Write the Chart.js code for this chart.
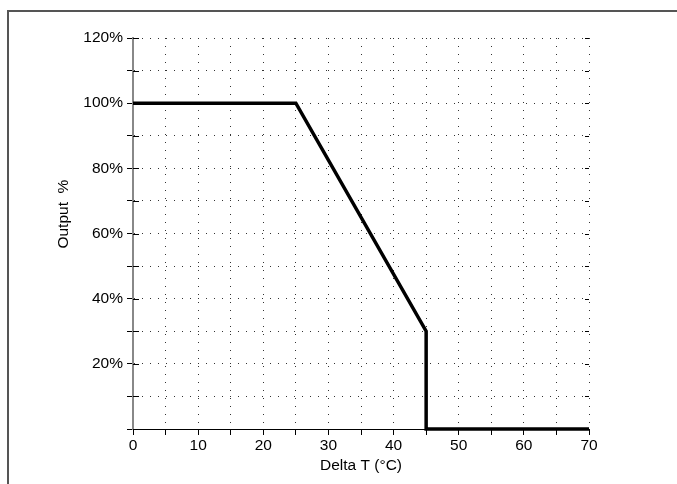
<!DOCTYPE html>
<html>
<head>
<meta charset="utf-8">
<script src="https://cdn.jsdelivr.net/npm/chart.js@4/dist/chart.umd.min.js"></script>
<style>
  html, body { margin: 0; padding: 0; background: #fff; overflow: hidden; }
  #wrap { position: relative; width: 677px; height: 484px; }
  #frame { position: absolute; left: 7px; top: 10px; width: 700px; height: 500px; border: 2px solid #555; box-sizing: border-box; }
  canvas { position: absolute; left: 0; top: 0; }
</style>
</head>
<body>
<div id="wrap">
  <div id="frame"></div>
  <canvas id="c" width="677" height="484"></canvas>
</div>
<script>
// Data
const deltaT = [0, 25, 45, 45, 70];
const outputPct = [100, 100, 30, 0, 0];
const xTickLabels = [0, 10, 20, 30, 40, 50, 60, 70];
const yTickLabels = [20, 40, 60, 80, 100, 120];

const points = deltaT.map((x, i) => ({ x: x, y: outputPct[i] }));
const FONT = { family: '"Liberation Sans", Arial, sans-serif', size: 15.5 };

const innerTicks = {
  id: 'innerTicks',
  afterDatasetsDraw(chart) {
    const { ctx, chartArea } = chart;
    const ys = chart.scales.y;
    ctx.save();
    ctx.strokeStyle = '#000';
    ctx.lineWidth = 1;
    ys.ticks.forEach(t => {
      const py = Math.round(ys.getPixelForValue(t.value)) + 0.5;
      ctx.beginPath();
      ctx.moveTo(chartArea.left, py);
      ctx.lineTo(chartArea.left + 6, py);
      ctx.moveTo(chartArea.right - 4, py);
      ctx.lineTo(chartArea.right, py);
      ctx.stroke();
    });
    ctx.restore();
  }
};

new Chart(document.getElementById('c'), {
  type: 'scatter',
  data: {
    datasets: [{
      data: points,
      showLine: true,
      borderColor: '#000',
      borderWidth: 3.5,
      pointRadius: 0,
      tension: 0,
      clip: false
    }]
  },
  options: {
    responsive: false,
    animation: false,
    devicePixelRatio: 1,
    layout: { padding: { left: 50, top: 38, right: 88, bottom: 5 } },
    plugins: { legend: { display: false }, tooltip: { enabled: false } },
    scales: {
      x: {
        type: 'linear',
        min: 0, max: 70,
        afterFit(s) { s.height = 50; },
        ticks: {
          stepSize: 5,
          autoSkip: false,
          maxRotation: 0,
          padding: 1,
          color: '#000',
          font: FONT,
          callback: v => xTickLabels.includes(v) ? String(v) : ''
        },
        grid: {
          color: '#333',
          lineWidth: 1,
          tickLength: 6,
          tickColor: '#000',
          tickBorderDash: []
        },
        border: { display: true, color: '#000', width: 1, dash: [1, 7] },
        title: {
          display: true,
          text: 'Delta T (°C)',
          color: '#000',
          font: FONT,
          padding: { top: 4, bottom: 4 }
        }
      },
      y: {
        min: 0, max: 120,
        afterFit(s) { s.width = 83; },
        ticks: {
          stepSize: 10,
          autoSkip: false,
          padding: 4,
          color: '#000',
          font: FONT,
          callback: v => yTickLabels.includes(v) ? v + '%' : ''
        },
        grid: {
          color: '#333',
          lineWidth: 1,
          tickLength: 6,
          tickColor: '#000',
          tickBorderDash: []
        },
        border: { display: true, color: '#888', width: 2, dash: [1, 7] },
        title: {
          display: true,
          text: '         Output  %',
          color: '#000',
          font: FONT,
          padding: { top: 4, bottom: 4 }
        }
      }
    }
  },
  plugins: [innerTicks]
});
</script>
</body>
</html>
